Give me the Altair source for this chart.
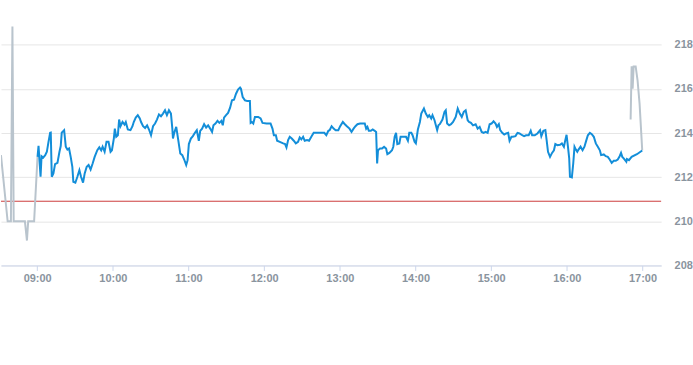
import altair as alt
import pandas as pd

# ---- data (minutes relative to 09:00, prices) ----
pre_minutes = [-28.7, -23.4, -20.8, -19.6, -18.6, -9.7, -8.1, -7.1, -2.4, 0.3]
pre_prices = [213.0, 210.0, 210.0, 218.83, 210.0, 210.0, 209.13, 210.0, 210.0, 212.92]

reg_minutes = [
    0.3, 1.1, 2.7, 3.5, 4.8, 6.4, 7.7, 9.0, 10.3, 10.8, 11.6, 12.9, 14.2, 16.1, 17.7, 18.7, 19.5,
    21.4, 22.7, 24.0, 25.3, 26.6, 27.9, 28.7, 30.3, 31.9, 33.5, 34.8, 36.4, 37.7, 39.3, 40.8,
    42.4, 44.0, 45.6, 47.7, 49.3, 50.8, 51.9, 53.5, 55.0, 56.6, 58.2, 59.3, 60.8, 61.6, 62.7,
    64.0, 65.0, 66.1, 67.7, 69.3, 70.3, 71.9, 74.0, 75.6, 76.6, 78.2, 79.8, 81.4, 82.4, 84.0,
    85.6, 87.2, 88.7, 90.3, 91.9, 93.5, 95.0, 96.6, 98.2, 99.8, 101.4, 102.9, 104.5, 106.1,
    107.2, 107.7, 108.7, 110.3, 111.9, 113.5, 115.1, 116.6, 118.2, 119.3, 120.3, 121.9, 123.5,
    125.1, 126.6, 128.2, 129.3, 130.8, 132.4, 134.0, 135.6, 137.2, 138.7, 139.8, 141.4, 143.0,
    144.5, 146.1, 147.2, 148.2, 149.8, 151.4, 153.0, 154.5, 156.1, 157.7, 159.3, 160.9, 161.6,
    163.0, 164.8, 166.6, 168.7, 169.3, 170.3, 171.4, 172.7, 175.3, 177.2, 178.7, 181.9, 185.1,
    186.6, 187.7, 189.3, 190.3, 192.4, 195.1, 196.6, 197.7, 199.0, 200.3, 201.9, 203.5, 205.1,
    206.9, 208.2, 209.5, 210.9, 212.2, 214.0, 215.6, 217.4, 219.3, 221.4, 226.1, 227.7, 229.3,
    230.9, 231.9, 233.5, 235.1, 236.7, 238.8, 240.3, 242.4, 244.0, 245.6, 247.7, 249.3, 250.9,
    252.4, 254.0, 256.1, 259.8, 260.9, 261.9, 263.0, 264.6, 266.1, 267.7, 268.8, 269.6, 270.3,
    271.9, 273.5, 275.1, 276.7, 277.7, 279.3, 281.4, 282.4, 283.5, 284.6, 285.6, 287.2, 288.2,
    292.5, 294.0, 295.1, 296.7, 297.7, 299.3, 300.3, 301.9, 303.5, 304.6, 306.7, 308.2, 309.8,
    310.9, 312.5, 313.5, 315.1, 317.2, 318.2, 319.3, 321.4, 323.0, 324.0, 325.1, 326.7, 328.2,
    329.8, 331.9, 333.5, 335.1, 336.7, 338.3, 339.8, 341.4, 342.5, 344.0, 345.6, 347.7, 349.3,
    350.9, 352.5, 354.0, 355.6, 357.2, 358.8, 360.3, 361.9, 363.5, 364.6, 366.1, 367.2, 368.8,
    370.4, 371.9, 373.5, 374.6, 376.1, 377.2, 379.3, 380.9, 382.5, 384.6, 386.1, 387.7, 389.8,
    391.4, 392.5, 394.6, 396.7, 398.8, 399.8, 401.4, 403.0, 404.0, 405.1, 406.7, 408.3, 409.8,
    410.9, 412.5, 414.6, 416.1, 417.7, 418.8, 419.8, 420.9, 421.9, 422.5, 424.0, 425.1, 426.1,
    427.2, 428.3, 429.3, 430.9, 432.5, 434.0, 435.1, 436.7, 438.3, 439.8, 441.4, 443.0, 444.6,
    446.2, 447.2, 449.3, 450.9, 452.5, 454.0, 455.6, 457.2, 458.8, 460.4, 461.9, 463.0, 464.0,
    465.1, 466.2, 467.2, 467.7, 469.3, 471.4, 475.6, 479.8,
]
reg_prices = [
    212.92, 213.42, 212.02, 212.95, 212.89, 213.00, 213.15, 213.60, 214.01, 214.02, 212.02, 212.17,
    212.59, 212.65, 213.15, 213.41, 214.02, 214.13, 213.38, 213.25, 213.30, 212.92, 212.47, 211.79,
    211.75, 212.02, 212.32, 212.02, 211.75, 212.17, 212.47, 212.55, 212.35, 212.62, 212.92, 213.22,
    213.35, 213.22, 213.38, 213.15, 213.60, 213.60, 213.15, 213.22, 213.75, 214.20, 213.83, 213.90,
    214.61, 214.31, 214.50, 214.38, 214.50, 214.16, 214.13, 214.31, 214.50, 214.70, 214.81, 214.66,
    214.50, 214.31, 214.23, 214.35, 214.16, 213.90, 214.31, 214.43, 214.61, 214.84, 214.76, 214.88,
    215.03, 214.81, 215.03, 214.88, 214.20, 213.75, 214.01, 214.28, 213.68, 213.07, 213.00, 212.80,
    212.55, 212.77, 213.50, 213.75, 213.86, 214.01, 214.13, 213.65, 214.10, 214.20, 214.40, 214.25,
    214.35, 214.20, 214.05, 214.35, 214.43, 214.55, 214.46, 214.55, 214.35, 214.70, 214.81, 214.91,
    215.15, 215.48, 215.51, 215.78, 215.97, 216.06, 216.01, 215.63, 215.48, 215.45, 215.45, 214.46,
    214.50, 214.43, 214.73, 214.73, 214.66, 214.46, 214.43, 214.43, 214.20, 213.90, 213.90, 213.65,
    213.60, 213.53, 213.50, 213.35, 213.68, 213.83, 213.75, 213.65, 213.53, 213.60, 213.80, 213.71,
    213.83, 213.65, 213.68, 213.65, 213.83, 214.01, 214.01, 214.01, 214.01, 213.90, 214.10, 214.13,
    214.31, 214.20, 214.13, 214.13, 214.31, 214.50, 214.40, 214.31, 214.20, 214.05, 214.20, 214.31,
    214.40, 214.43, 214.43, 214.20, 214.28, 214.10, 214.10, 214.16, 214.10, 214.05, 212.62, 213.22,
    213.30, 213.30, 213.38, 213.30, 213.04, 213.10, 213.22, 213.38, 213.83, 214.01, 213.50, 213.53,
    213.83, 213.83, 213.65, 214.01, 214.01, 213.90, 213.60, 213.53, 214.16, 214.50, 214.88, 215.11,
    214.88, 214.73, 214.81, 214.66, 214.81, 214.58, 214.13, 214.35, 214.40, 214.61, 214.96, 215.03,
    214.43, 214.35, 214.40, 214.50, 214.73, 215.11, 214.88, 214.73, 214.96, 215.03, 214.58, 214.50,
    214.46, 214.35, 214.40, 214.20, 214.28, 214.05, 214.01, 214.05, 214.01, 214.40, 214.43, 214.53,
    214.43, 214.28, 214.40, 214.13, 214.01, 213.93, 213.98, 214.01, 213.65, 213.83, 213.83, 213.86,
    214.01, 213.98, 213.90, 213.86, 213.90, 213.90, 214.10, 213.90, 213.90, 213.98, 214.13, 213.86,
    214.10, 214.13, 213.68, 213.15, 212.92, 213.10, 213.22, 213.50, 213.45, 213.47, 213.53, 213.38,
    213.68, 213.92, 213.38, 212.85, 212.02, 211.99, 212.62, 213.38, 213.25, 213.15, 213.25, 213.38,
    213.22, 213.38, 213.60, 213.90, 214.01, 213.95, 213.83, 213.53, 213.38, 213.22, 213.00, 213.03,
    212.95, 212.92, 212.80, 212.65, 212.74, 212.74, 212.80, 212.95, 213.10, 212.92, 212.85, 212.77,
    212.70, 212.82, 212.77, 212.92, 213.04, 213.21,
]

post_minutes = [470.6, 471.4, 472.2, 473.0, 474.6, 476.1, 477.7, 479.8]
post_prices = [214.61, 217.02, 216.01, 217.02, 217.02, 216.39, 215.33, 213.22]

prev_close = 210.91
y_ticks = [208, 210, 212, 214, 216, 218]
x_tick_hours = [9, 10, 11, 12, 13, 14, 15, 16, 17]

BASE = pd.Timestamp("2024-01-02 09:00:00")


def make_df(mins, prices):
    ts = BASE + pd.to_timedelta(mins, unit="m")
    return pd.DataFrame({"time": ts.strftime("%Y-%m-%dT%H:%M:%SZ"), "price": prices})


pre_df = make_df(pre_minutes, pre_prices)
reg_df = make_df(reg_minutes, reg_prices)
post_df = make_df(post_minutes, post_prices)

LABEL_COLOR = "#8a949e"
x_scale = alt.Scale(
    type="utc",
    domain=[
        alt.DateTime(year=2024, month=1, date=2, hours=8, minutes=31, seconds=20, utc=True),
        alt.DateTime(year=2024, month=1, date=2, hours=17, minutes=14, seconds=48, utc=True),
    ],
)
y_scale = alt.Scale(domain=[208, 220], nice=False, zero=False)

x_axis = alt.Axis(
    values=[alt.DateTime(year=2024, month=1, date=2, hours=h, utc=True) for h in x_tick_hours],
    format="%H:%M",
    title=None,
    grid=False,
    domainColor="#ccd6eb",
    tickColor="#ccd6eb",
    tickSize=5,
    labelPadding=2,
    labelColor=LABEL_COLOR,
    labelFont="Liberation Sans",
    labelFontSize=11,
    labelFontWeight="bold",
)
y_axis = alt.Axis(
    orient="right",
    values=y_ticks,
    title=None,
    grid=True,
    gridColor="#e6e6e6",
    domain=False,
    ticks=False,
    labelPadding=13,
    labelAlign="left",
    labelColor=LABEL_COLOR,
    labelFont="Liberation Sans",
    labelFontSize=11,
    labelFontWeight="bold",
)

X = alt.X("time:T", scale=x_scale, axis=x_axis)
Y = alt.Y("price:Q", scale=y_scale, axis=y_axis)

rule = alt.Chart(pd.DataFrame({"price": [prev_close]})).mark_rule(
    color="#cc3b3b", strokeWidth=1
).encode(y=alt.Y("price:Q", scale=y_scale, axis=y_axis))

pre_line = alt.Chart(pre_df).mark_line(color="#b9c4cd", strokeWidth=2, clip=True).encode(x=X, y=Y)
post_line = alt.Chart(post_df).mark_line(color="#b9c4cd", strokeWidth=2, clip=True).encode(x=X, y=Y)
reg_line = alt.Chart(reg_df).mark_line(color="#138ed9", strokeWidth=2, clip=True).encode(x=X, y=Y)

chart = (
    alt.layer(rule, pre_line, post_line, reg_line)
    .properties(width=663, height=266, padding=0)
    .configure_view(stroke=None)
)

chart.save("out.html", embed_options={"renderer": "svg", "actions": False})
